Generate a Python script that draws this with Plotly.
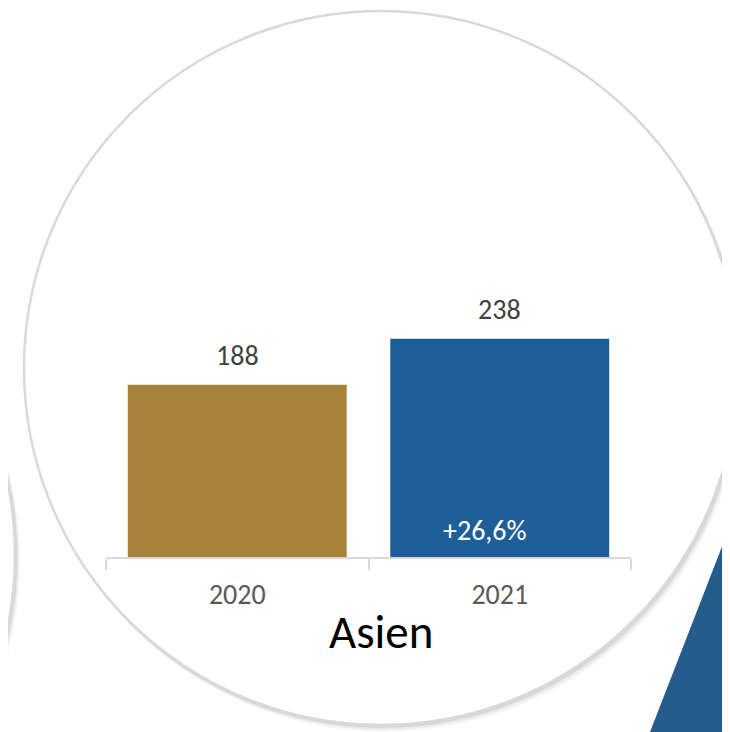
import plotly.graph_objects as go

# Daten
jahre = ['2020', '2021']
werte = [188, 238]
farben = ['#A6823A', '#1F5F99']
region = 'Asien'

veraenderung = '+' + f'{(werte[1] / werte[0] - 1) * 100:.1f}'.replace('.', ',') + '%'

# Seite hat 8px Rand -> Grafik startet bei (8, 8)
O = 8
W, H = 730, 732 - O
L, R, T, B = 106 - O, 99 + O, 282 - O, 175


def px_x(x):
    return (x - O - L) / (W - L - R)


def px_y(y):
    return (H - B - (y - O)) / (H - T - B)


def kreis(cx, cy, r, **kw):
    return dict(type='circle', xref='paper', yref='paper', layer='below',
                x0=px_x(cx - r), x1=px_x(cx + r),
                y0=px_y(cy + r), y1=px_y(cy - r), **kw)


fig = go.Figure()
fig.add_trace(go.Bar(x=jahre, y=werte, marker_color=farben,
                     marker_line_width=0, hoverinfo='skip'))

shapes = []
# Dreieck unten rechts
shapes.append(dict(type='path', xref='paper', yref='paper', layer='below',
                   path='M {} {} L {} {} L {} {} L {} {} Z'.format(
                       px_x(650), px_y(732), px_x(740), px_y(500),
                       px_x(770), px_y(500), px_x(770), px_y(770)),
                   fillcolor='#265C8D', line_width=0))

# Schatten + Kreise
for cx, cy, r in [(-340, 555, 355), (381, 368, 357)]:
    for d, a in [(6, 0.03), (4, 0.05), (2, 0.08)]:
        shapes.append(kreis(cx + d * 0.7, cy + d, r + 1, fillcolor=f'rgba(0,0,0,{a})',
                            line_width=0))
    shapes.append(kreis(cx, cy, r, fillcolor='white',
                        line=dict(color='#D9D9D9', width=2.5)))

annotations = []
for i, w in enumerate(werte):
    annotations.append(dict(x=i, y=w, text=str(w), showarrow=False,
                            yanchor='bottom', yshift=10,
                            font=dict(size=28, color='#404040')))
annotations.append(dict(x=1, y=0, text=veraenderung, showarrow=False,
                        yanchor='bottom', yshift=7, xshift=-15,
                        font=dict(size=28, color='white')))
annotations.append(dict(x=px_x(381), y=px_y(632), xref='paper', yref='paper',
                        text=region, showarrow=False, yanchor='middle',
                        font=dict(size=47, color='black')))

fig.update_layout(
    width=W, height=H,
    margin=dict(l=L, r=R, t=T, b=B),
    paper_bgcolor='white', plot_bgcolor='rgba(0,0,0,0)',
    font=dict(family='Carlito, Lato, sans-serif'),
    bargap=0.166, showlegend=False,
    shapes=shapes, annotations=annotations,
)
fig.update_xaxes(type='category', range=[-0.5, 1.5], showline=True,
                 linecolor='#D9D9D9', linewidth=1.5,
                 ticks='outside', tickson='boundaries', ticklen=11,
                 tickcolor='#D9D9D9', tickwidth=1.5,
                 tickfont=dict(size=28, color='#595959'),
                 ticklabelstandoff=12, showgrid=False)
fig.update_yaxes(range=[0, 300], visible=False, showgrid=False)

fig.write_html('out.html')
